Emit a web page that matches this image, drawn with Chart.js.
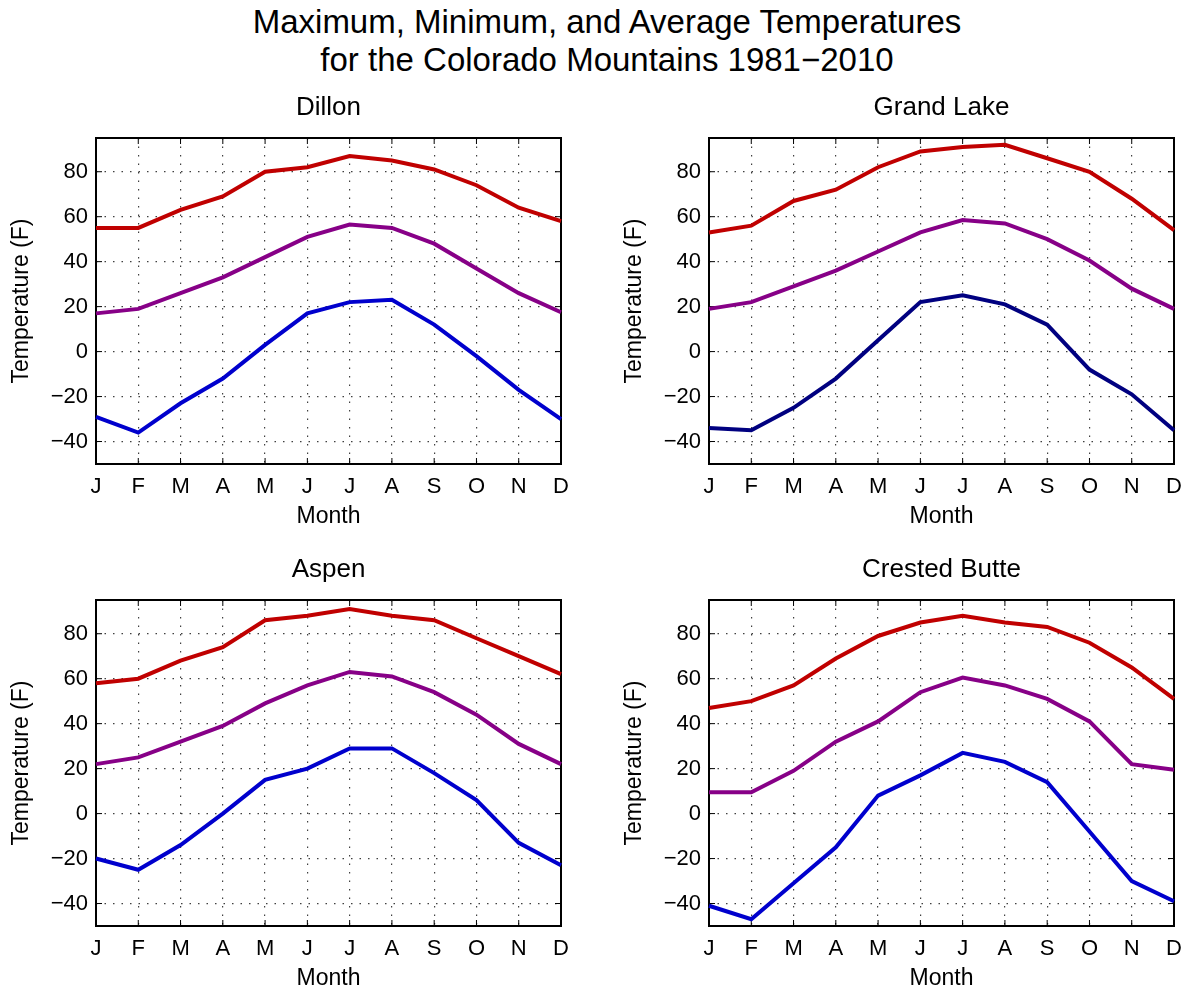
<!DOCTYPE html>
<html>
<head>
<meta charset="utf-8">
<script src="https://cdn.jsdelivr.net/npm/chart.js@4.4.1/dist/chart.umd.min.js"></script>
<style>
  body { margin: 0; background: #fff; overflow: hidden; }
  #wrap { position: relative; width: 1187px; height: 988px; overflow: hidden; }
  #title { position: absolute; left: 0; top: 3px; width: 1214px; text-align: center;
           font: 33px "Liberation Sans", Arial, sans-serif; line-height: 38px; color: #000; }
  .panel { position: absolute; width: 580px; height: 440px; }
</style>
</head>
<body>
<div id="wrap">
  <div id="title">Maximum, Minimum, and Average Temperatures<br>for the Colorado Mountains 1981−2010</div>
  <div class="panel" style="left:0;top:90px"><canvas id="dillon"></canvas></div>
  <div class="panel" style="left:613px;top:90px"><canvas id="grandlake"></canvas></div>
  <div class="panel" style="left:0;top:552px"><canvas id="aspen"></canvas></div>
  <div class="panel" style="left:613px;top:552px"><canvas id="crested"></canvas></div>
</div>
<script>
const months = ['J', 'F', 'M', 'A', 'M', 'J', 'J', 'A', 'S', 'O', 'N', 'D'];
const yTicks = [-40, -20, 0, 20, 40, 60, 80];

const dillonMax = [55, 55, 63, 69, 80, 82, 87, 85, 81, 74, 64, 58];
const dillonAvg = [17, 19, 26, 33, 42, 51, 56.5, 55, 48, 37, 26, 17.5];
const dillonMin = [-29, -36, -23, -12, 3, 17, 22, 23, 12, -2, -17, -30];

const grandLakeMax = [53, 56, 67, 72, 82, 89, 91, 92, 86, 80, 68, 54];
const grandLakeAvg = [19, 22, 29, 36, 44.5, 53, 58.5, 57, 50, 40.5, 28, 19];
const grandLakeMin = [-34, -35, -25, -12, 5, 22, 25, 21, 12, -8, -19, -35];

const aspenMax = [58, 60, 68, 74, 86, 88, 91, 88, 86, 78, 70, 62];
const aspenAvg = [22, 25, 32, 39, 49, 57, 63, 61, 54, 44, 31, 22];
const aspenMin = [-20, -25, -14, 0, 15, 20, 29, 29, 18, 6, -13, -23];

const crestedMax = [47, 50, 57, 69, 79, 85, 88, 85, 83, 76, 65, 51];
const crestedAvg = [9.5, 9.5, 19, 32, 41, 54, 60.5, 57, 51, 41, 22, 19.5];
const crestedMin = [-41, -47, -31, -15, 8, 17, 27, 23, 14, -8, -30, -39];

const font = '"Liberation Sans", Arial, sans-serif';
const RED = 'rgb(192, 0, 0)';
const PURPLE = 'rgb(135, 0, 135)';
const BLUE = 'rgb(0, 0, 205)';
const NAVY = 'rgb(0, 0, 128)';

// box round the plot with small inward ticks, like matlab
const framePlugin = {
  id: 'frame',
  beforeDatasetsDraw(chart) {
    const { ctx, chartArea: a, scales } = chart;
    ctx.save();
    ctx.strokeStyle = '#000';
    ctx.lineWidth = 1;
    ctx.beginPath();
    yTicks.forEach(v => {
      const py = scales.y.getPixelForValue(v);
      ctx.moveTo(a.left, py); ctx.lineTo(a.left + 6, py);
      ctx.moveTo(a.right, py); ctx.lineTo(a.right - 6, py);
    });
    months.forEach((m, i) => {
      const px = scales.x.getPixelForValue(i);
      ctx.moveTo(px, a.bottom); ctx.lineTo(px, a.bottom - 6);
      ctx.moveTo(px, a.top); ctx.lineTo(px, a.top + 6);
    });
    ctx.stroke();
    ctx.lineWidth = 2;
    ctx.strokeRect(a.left, a.top, a.right - a.left, a.bottom - a.top);
    ctx.restore();
  }
};

function line(data, color) {
  return {
    data: data,
    borderColor: color,
    borderWidth: 4,
    pointRadius: 0,
    tension: 0,
    fill: false
  };
}

function makeChart(id, name, maxData, avgData, minData, minColor) {
  return new Chart(document.getElementById(id), {
    type: 'line',
    data: {
      labels: months,
      datasets: [line(maxData, RED), line(avgData, PURPLE), line(minData, minColor)]
    },
    plugins: [framePlugin],
    options: {
      responsive: true,
      maintainAspectRatio: false,
      animation: false,
      layout: { padding: { left: 8, right: 19, top: 0, bottom: 0 } },
      plugins: {
        legend: { display: false },
        tooltip: { enabled: false },
        title: {
          display: true,
          text: name,
          fullSize: false,
          color: '#000',
          font: { family: font, size: 26, weight: 'normal' },
          padding: { top: 2.4, bottom: 14.4 }
        }
      },
      scales: {
        x: {
          type: 'category',
          offset: false,
          afterFit: s => { s.height = 66; },
          grid: { color: 'rgba(0,0,0,0.75)', lineWidth: 1.2, drawTicks: false, offset: false },
          border: { display: false, dash: [1.5, 7] },
          ticks: { color: '#000', font: { family: font, size: 22 }, padding: 10, autoSkip: false, maxRotation: 0 },
          title: { display: true, text: 'Month', color: '#000', font: { family: font, size: 23 }, padding: 0 }
        },
        y: {
          min: -50,
          max: 95,
          afterFit: s => { s.width = 88; },
          afterBuildTicks: s => { s.ticks = yTicks.map(v => ({ value: v })); },
          grid: { color: 'rgba(0,0,0,0.75)', lineWidth: 1.2, drawTicks: false },
          border: { display: false, dash: [1.5, 7] },
          ticks: {
            color: '#000',
            font: { family: font, size: 22 },
            padding: 8,
            callback: v => String(v).replace('-', '\u2212')
          },
          title: { display: true, text: 'Temperature (F)', color: '#000', font: { family: font, size: 23 }, padding: 0 }
        }
      }
    }
  });
}

makeChart('dillon', 'Dillon', dillonMax, dillonAvg, dillonMin, BLUE);
makeChart('grandlake', 'Grand Lake', grandLakeMax, grandLakeAvg, grandLakeMin, NAVY);
makeChart('aspen', 'Aspen', aspenMax, aspenAvg, aspenMin, BLUE);
makeChart('crested', 'Crested Butte', crestedMax, crestedAvg, crestedMin, BLUE);
</script>
</body>
</html>
